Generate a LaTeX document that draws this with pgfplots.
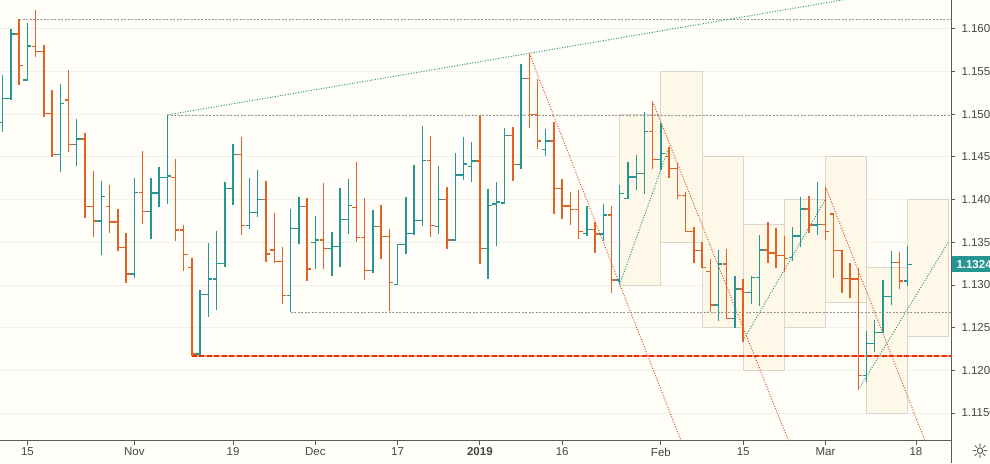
\documentclass[border=0pt]{standalone}
\usepackage{pgfplots}
\pgfplotsset{compat=1.18}
\usepackage{pgfplotstable}
\usepackage{fontspec}
\setmainfont{Liberation Sans}
\newfontfamily\symfont{DejaVu Sans}
\definecolor{upc}{RGB}{38,150,146}
\definecolor{dnc}{RGB}{226,98,36}
\definecolor{bgc}{RGB}{255,254,248}
\definecolor{boxf}{RGB}{253,248,232}
\definecolor{boxd}{RGB}{218,214,204}
\definecolor{gridc}{RGB}{243,242,234}
\definecolor{axc}{RGB}{90,90,90}
\definecolor{txc}{RGB}{70,70,70}
\definecolor{lvl}{RGB}{150,150,150}
\definecolor{redl}{RGB}{236,40,20}
\definecolor{orl}{RGB}{250,165,110}
\definecolor{trd}{RGB}{222,80,48}
\definecolor{trt}{RGB}{45,150,130}

\pgfdeclareplotmark{ltick}{\pgfpathmoveto{\pgfqpoint{-4pt}{0pt}}\pgfpathlineto{\pgfqpoint{0.6pt}{0pt}}\pgfusepathqstroke}
\pgfdeclareplotmark{rtick}{\pgfpathmoveto{\pgfqpoint{-0.6pt}{0pt}}\pgfpathlineto{\pgfqpoint{4pt}{0pt}}\pgfusepathqstroke}
\pgfdeclareplotmark{nomark}{}

\pgfplotstableread{
i o h l c
0 1.14903 1.15458 1.14794 1.15185
1 1.15185 1.15993 1.15165 1.15938
3 1.15399 1.16063 1.15392 1.15797
7 1.14529 1.15352 1.14326 1.15126
9 1.14646 1.14943 1.14396 1.14708
12 1.13748 1.14217 1.13354 1.14037
16 1.13128 1.14252 1.13077 1.14084
18 1.13862 1.14252 1.13542 1.14076
19 1.14076 1.14385 1.13916 1.14260
20 1.14260 1.14990 1.13951 1.14275
24 1.12191 1.12940 1.12175 1.12890
25 1.12890 1.13495 1.12628 1.13069
26 1.13069 1.13635 1.12706 1.13253
27 1.13253 1.14201 1.13214 1.14131
28 1.14131 1.14650 1.13940 1.14529
30 1.13694 1.14252 1.13659 1.13846
31 1.13846 1.14345 1.13799 1.14002
35 1.12878 1.13889 1.12679 1.13659
36 1.13659 1.14029 1.13483 1.13920
38 1.13499 1.13807 1.13190 1.13526
40 1.13428 1.13623 1.13104 1.13448
41 1.13448 1.14131 1.13214 1.13768
42 1.13768 1.14240 1.13596 1.13932
45 1.13171 1.13877 1.13143 1.13686
48 1.13007 1.13475 1.13007 1.13475
49 1.13475 1.14029 1.13362 1.13604
50 1.13604 1.14408 1.13588 1.13756
51 1.13756 1.14861 1.13694 1.14459
53 1.13686 1.14396 1.13596 1.14002
55 1.13526 1.14545 1.13526 1.14287
56 1.14287 1.14736 1.14228 1.14416
57 1.14385 1.14677 1.14209 1.14451
59 1.13428 1.14127 1.13065 1.13932
60 1.13947 1.14205 1.13460 1.13971
61 1.13959 1.14841 1.13947 1.14748
63 1.14412 1.15591 1.14361 1.15419
66 1.14588 1.14829 1.14506 1.14685
71 1.13604 1.13928 1.13569 1.13651
73 1.13596 1.13951 1.13510 1.13819
75 1.13058 1.14166 1.13007 1.14072
76 1.14010 1.14443 1.14010 1.14264
77 1.14264 1.14517 1.14115 1.14306
78 1.14306 1.15021 1.14061 1.14798
80 1.14470 1.14892 1.14345 1.14541
87 1.12765 1.13409 1.12581 1.13245
89 1.12609 1.13104 1.12492 1.12952
91 1.12913 1.13104 1.12777 1.13089
92 1.13089 1.13584 1.12753 1.13409
96 1.13323 1.13674 1.13284 1.13573
97 1.13573 1.14033 1.13448 1.13889
99 1.13702 1.14201 1.13584 1.13709
105 1.11937 1.12464 1.11859 1.12316
106 1.12316 1.12589 1.12218 1.12445
107 1.12445 1.13058 1.12445 1.12862
108 1.12862 1.13397 1.12765 1.13264
110 1.13046 1.13456 1.12987 1.13237
}\up

\pgfplotstableread{
i o h l c
2 1.15938 1.16110 1.15345 1.15571
4 1.15790 1.16219 1.15665 1.15735
5 1.15735 1.15809 1.14962 1.15009
6 1.15009 1.15282 1.14494 1.14529
8 1.15165 1.15516 1.14560 1.14646
10 1.14708 1.14775 1.13787 1.13920
11 1.13920 1.14334 1.13565 1.13748
13 1.13920 1.14170 1.13604 1.13737
14 1.13737 1.13889 1.13401 1.13440
15 1.13440 1.13604 1.13026 1.13128
17 1.14084 1.14568 1.13717 1.13862
21 1.14260 1.14470 1.13518 1.13643
22 1.13643 1.13698 1.13167 1.13358
23 1.13202 1.13319 1.12168 1.12191
29 1.14529 1.14736 1.13584 1.13694
32 1.14002 1.14217 1.13272 1.13362
33 1.13409 1.13846 1.13253 1.13276
34 1.13276 1.13444 1.12773 1.12878
37 1.13920 1.14014 1.13050 1.13186
39 1.13526 1.14193 1.13190 1.13428
43 1.13908 1.14439 1.13506 1.13557
44 1.13557 1.14014 1.13058 1.13171
46 1.13686 1.13936 1.13307 1.13569
47 1.13569 1.13655 1.12695 1.13030
52 1.14459 1.14744 1.13561 1.13698
54 1.14002 1.14143 1.13424 1.13526
58 1.14451 1.14986 1.13245 1.13428
62 1.14748 1.14849 1.14221 1.14412
64 1.15419 1.15712 1.14841 1.14997
65 1.14997 1.15411 1.14588 1.14685
67 1.14685 1.14908 1.13826 1.14131
68 1.14131 1.14240 1.13776 1.13924
69 1.13924 1.14092 1.13705 1.13885
70 1.13885 1.14111 1.13534 1.13627
72 1.13651 1.13733 1.13370 1.13596
74 1.13819 1.13924 1.12901 1.13058
79 1.14798 1.15146 1.14361 1.14470
81 1.14502 1.14619 1.14248 1.14361
82 1.14361 1.14424 1.14006 1.14049
83 1.14049 1.14092 1.13616 1.13627
84 1.13627 1.13682 1.13253 1.13401
85 1.13401 1.13506 1.13198 1.13206
86 1.13155 1.13303 1.12679 1.12765
88 1.13245 1.13421 1.12597 1.12609
90 1.12952 1.13069 1.12335 1.12913
93 1.13409 1.13733 1.13253 1.13374
94 1.13374 1.13670 1.13202 1.13346
95 1.13346 1.13573 1.13155 1.13307
98 1.13889 1.14041 1.13604 1.13702
100 1.13709 1.14150 1.13526 1.13627
101 1.13830 1.13840 1.13085 1.13401
102 1.13401 1.13410 1.12901 1.13077
103 1.13077 1.13253 1.12851 1.13069
104 1.13069 1.13194 1.11770 1.11937
109 1.13264 1.13389 1.12948 1.13046
}\dn

\begin{document}
\begin{tikzpicture}
\fill[bgc] (0pt,-22.3pt) rectangle (990pt,440.7pt);
\begin{axis}[
  at={(0pt,0pt)}, anchor=south west,
  scale only axis, width=951.3pt, height=440.7pt,
  xmin=-0.33, xmax=115.3, ymin=1.11176, ymax=1.16336,
  axis x line*=bottom, axis y line*=right,
  axis line style={axc, line width=0.9pt},
  tick align=outside, major tick length=4pt,
  tick style={axc, line width=0.8pt},
  xtick={3,16,28,38,48,58,68,80,90,100,111},
  xticklabels={15,Nov,19,Dec,17,\textbf{2019},16,Feb,15,Mar,18},
  ytick={1.115,1.12,1.125,1.13,1.135,1.14,1.145,1.15,1.155,1.16},
  yticklabels={1.1150,1.1200,1.1250,1.1300,1.1350,1.1400,1.1450,1.1500,1.1550,1.1600},
  ymajorgrids, grid style={gridc, line width=0.7pt},
  ticklabel style={font=\fontsize{11.5}{13}\selectfont, text=txc},
  yticklabel style={anchor=west, inner xsep=0pt, xshift=6pt},
  xticklabel style={anchor=north, inner ysep=0pt, yshift=-3pt},
  clip=true,
]
% boxes
\addplot[fill=boxf, draw=boxd, line width=0.8pt] coordinates {(75,1.1500) (80,1.1500) (80,1.1300) (75,1.1300)} --cycle;
\addplot[fill=boxf, draw=boxd, line width=0.8pt] coordinates {(80,1.1550) (85,1.1550) (85,1.1350) (80,1.1350)} --cycle;
\addplot[fill=boxf, draw=boxd, line width=0.8pt] coordinates {(85,1.1450) (90,1.1450) (90,1.1250) (85,1.1250)} --cycle;
\addplot[fill=boxf, draw=boxd, line width=0.8pt] coordinates {(90,1.1371) (95,1.1371) (95,1.1200) (90,1.1200)} --cycle;
\addplot[fill=boxf, draw=boxd, line width=0.8pt] coordinates {(95,1.1400) (100,1.1400) (100,1.1250) (95,1.1250)} --cycle;
\addplot[fill=boxf, draw=boxd, line width=0.8pt] coordinates {(100,1.1450) (105,1.1450) (105,1.1280) (100,1.1280)} --cycle;
\addplot[fill=boxf, draw=boxd, line width=0.8pt] coordinates {(105,1.1321) (110,1.1321) (110,1.1150) (105,1.1150)} --cycle;
\addplot[fill=boxf, draw=boxd, line width=0.8pt] coordinates {(110,1.1400) (115,1.1400) (115,1.1240) (110,1.1240)} --cycle;
% horizontal levels
\addplot[lvl, line width=0.8pt, dash pattern=on 2pt off 1.5pt] coordinates {(2,1.16110) (116,1.16110)};
\addplot[lvl, line width=0.8pt, dash pattern=on 2pt off 1.5pt] coordinates {(20,1.14990) (116,1.14990)};
\addplot[lvl, line width=0.8pt, dash pattern=on 2pt off 1.5pt] coordinates {(35,1.12680) (116,1.12680)};
\addplot[orl, line width=2pt] coordinates {(23,1.12168) (116,1.12168)};
\addplot[redl, line width=2pt, dash pattern=on 5pt off 2.5pt] coordinates {(23,1.12168) (116,1.12168)};
% trend lines
\addplot[trt, line width=1pt, dash pattern=on 1pt off 1.6pt] coordinates {(20,1.14990) (104,1.16368)};
\addplot[trd, line width=1pt, dash pattern=on 1pt off 1.6pt] coordinates {(64,1.15712) (83,1.11040)};
\addplot[trd, line width=1pt, dash pattern=on 1pt off 1.6pt] coordinates {(79,1.15146) (96,1.11056)};
\addplot[trd, line width=1pt, dash pattern=on 1pt off 1.6pt] coordinates {(100,1.14150) (113,1.10955)};
\addplot[trt, line width=1pt, dash pattern=on 1pt off 1.6pt] coordinates {(75,1.13007) (81,1.14619)};
\addplot[trt, line width=1pt, dash pattern=on 1pt off 1.6pt] coordinates {(90,1.12350) (100,1.14000)};
\addplot[trt, line width=1pt, dash pattern=on 1pt off 1.6pt] coordinates {(104,1.11770) (115,1.13510)};
% up bars
\addplot[upc, only marks, mark=nomark, error bars/.cd, y dir=minus, y explicit, error mark=none,
  error bar style={draw=upc, line width=1.4pt, solid}] table[x=i, y=h, y error expr=\thisrow{h}-\thisrow{l}] {\up};
\addplot[upc, only marks, mark=ltick, mark options={line width=1.3pt, solid}] table[x=i, y=o] {\up};
\addplot[upc, only marks, mark=rtick, mark options={line width=1.3pt, solid}] table[x=i, y=c] {\up};
% down bars
\addplot[dnc, only marks, mark=nomark, error bars/.cd, y dir=minus, y explicit, error mark=none,
  error bar style={draw=dnc, line width=1.4pt, solid}] table[x=i, y=h, y error expr=\thisrow{h}-\thisrow{l}] {\dn};
\addplot[dnc, only marks, mark=ltick, mark options={line width=1.3pt, solid}] table[x=i, y=o] {\dn};
\addplot[dnc, only marks, mark=rtick, mark options={line width=1.3pt, solid}] table[x=i, y=c] {\dn};
\coordinate (pl) at (axis cs:115.3,1.1324);
\end{axis}
\draw[axc, line width=0.9pt] (951.3pt,0pt) -- (951.3pt,-22.3pt);
\node[fill=upc, text=white, anchor=west, minimum height=16pt, minimum width=38.7pt, inner xsep=0pt, inner sep=0pt, align=left, font=\fontsize{11.5}{13}\selectfont\bfseries] at (pl) {\hspace*{5pt}1.1324\hspace*{10pt}};
\node[text=txc, inner sep=0pt, anchor=center] at (980pt,-10pt) {\symfont\fontsize{20}{20}\selectfont ☼};
\pgfresetboundingbox
\path (0pt,-22.3pt) rectangle (990pt,440.7pt);
\end{tikzpicture}
\end{document}
